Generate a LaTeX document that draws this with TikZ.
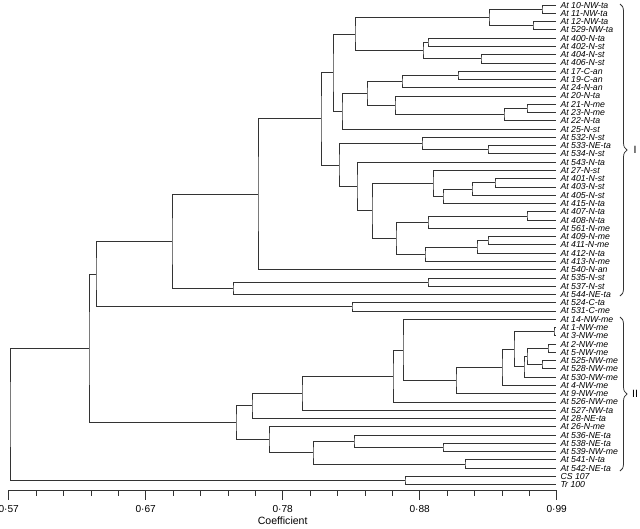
\documentclass[tikz,border=0pt]{standalone}
\usepackage{fontspec}
\setmainfont{Liberation Sans}
\usetikzlibrary{calc,decorations.pathreplacing}

\tikzset{
  branch/.style={black!80, line width=0.55pt},
  leaf/.style={anchor=west, inner xsep=3pt, inner ysep=0pt, font=\fontsize{6.2}{7}\selectfont\itshape},
  ticklabel/.style={inner sep=0pt, font=\fontsize{7.2}{8}\selectfont},
  grouplabel/.style={inner sep=0pt, font=\fontsize{7.5}{8}\selectfont},
}

\begin{document}
\begin{tikzpicture}[x=0.025cm, y=-0.025cm]
  \useasboundingbox (0,0) rectangle (640,528);

  % --- Leaves ---
  \foreach \lab [count=\i] in {At 10-NW-ta, At 11-NW-ta, At 12-NW-ta, At 529-NW-ta,
      At 400-N-ta, At 402-N-st, At 404-N-st, At 406-N-st, At 17-C-an, At 19-C-an,
      At 24-N-an, At 20-N-ta, At 21-N-me, At 23-N-me, At 22-N-ta, At 25-N-st,
      At 532-N-st, At 533-NE-ta, At 534-N-st, At 543-N-ta, At 27-N-st, At 401-N-st,
      At 403-N-st, At 405-N-st, At 415-N-ta, At 407-N-ta, At 408-N-ta, At 561-N-me,
      At 409-N-me, At 411-N-me, At 412-N-ta, At 413-N-me, At 540-N-an, At 535-N-st,
      At 537-N-st, At 544-NE-ta, At 524-C-ta, At 531-C-me, At 14-NW-me, At 1-NW-me,
      At 3-NW-me, At 2-NW-me, At 5-NW-me, At 525-NW-me, At 528-NW-me, At 530-NW-me,
      At 4-NW-me, At 9-NW-me, At 526-NW-me, At 527-NW-ta, At 28-NE-ta, At 26-N-me,
      At 536-NE-ta, At 538-NE-ta, At 539-NW-me, At 541-N-ta, At 542-NE-ta,
      CS 107, Tr 100}
    \node[leaf] (l\i) at (556, {5+(\i-1)*8.27}) {\lab};

  % --- Joins (name/x/upper/lower) ---
  \foreach \n/\x/\a/\b in {k1/542/l1/l2, k2/533/l3/l4, k3/489/k1/k2, k4/428/l5/l6,
      k5/481/l7/l8, k6/423/k4/k5, k7/355/k3/k6, k8/458/l9/l10, k9/402/k8/l11,
      k10/527/l13/l14, k11/504/k10/l15, k12/395/l12/k11, k13/367/k9/k12,
      k14/342/k13/l16, k15/333/k7/k14, k16/488/l18/l19, k17/422/l17/k16,
      k18/495/l22/l23, k19/472/k18/l24, k20/443/k19/l25, k21/433/l21/k20,
      k22/527/l26/l27, k23/428/k22/l28, k24/488/l29/l30, k25/477/k24/l31,
      k26/425/k25/l32, k27/396/k23/k26, k28/372/k21/k27, k29/357/l20/k28,
      k30/339/k17/k29, k31/321/k15/k30, k32/258/k31/l33, k33/428/l34/l35,
      k34/233/k33/l36, k35/172/k32/k34, k36/352/l37/l38, k37/96/k35/k36,
      k38/554/l40/l41, k39/548/l42/l43, k40/542/l44/l45, k41/527/k39/k40,
      k42/524/k41/l46, k43/514/k38/k42, k44/502/k43/l47, k45/456/k44/l48,
      k46/403/l39/k45, k47/393/k46/l49, k48/302/k47/l50, k49/252/k48/l51,
      k50/443/l54/l55, k51/354/l53/k50, k52/465/l56/l57, k53/313/k51/k52,
      k54/269/l52/k53, k55/236/k49/k54, k56/89/k37/k55, k57/405/l58/l59,
      k58/10/k56/k57} {
    \coordinate (xr) at (\x,0);
    \coordinate (m) at ($(\a)!0.5!(\b)$);
    \coordinate (\n) at (xr |- m);
    \draw[branch] (\a) -| (\n) |- (\b);
  }

  % --- Groups ---
  \draw[branch, decorate, decoration={brace, amplitude=5pt}] (620,4) -- (620,296);
  \node[grouplabel] (gI) at (635,150) {I};
  \draw[branch, decorate, decoration={brace, amplitude=5pt}] (620,317) -- (620,471);
  \node[grouplabel] (gII) at (635,394) {II};

  % --- Axis ---
  \draw[branch] (8.7,490) -- (556.7,490);
  \foreach \k in {0,...,20} \draw[branch] ({8.7+27.4*\k},490) -- ++(0,6);
  \foreach \k/\v in {0/0·57, 5/0·67, 10/0·78, 15/0·88, 20/0·99} {
    \draw[branch] ({8.7+27.4*\k},490) -- ++(0,10);
    \node[ticklabel] (t\k) at ({8.7+27.4*\k},509) {\v};
  }
  \node[grouplabel] (coef) at (282.7,521) {Coefficient};

\end{tikzpicture}
\end{document}
